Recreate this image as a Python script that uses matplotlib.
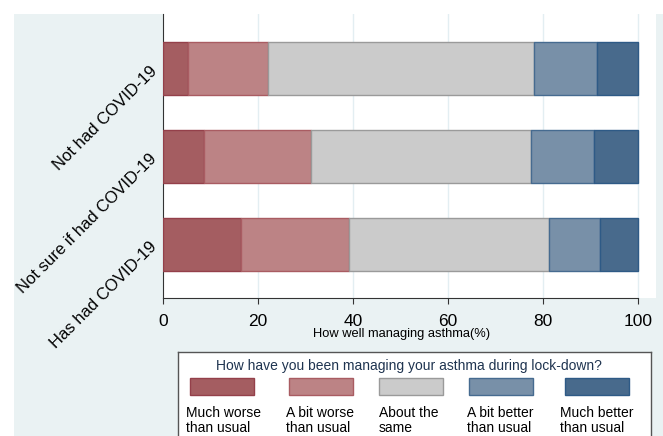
import numpy as np
import matplotlib
matplotlib.use("Agg")
import matplotlib.pyplot as plt
from matplotlib.patches import Rectangle

plt.rcParams["font.family"] = ["Liberation Sans", "DejaVu Sans"]

# data (percent of respondents per group)
groups = ["Not had COVID-19", "Not sure if had COVID-19", "Has had COVID-19"]
much_worse = [5.2, 8.7, 16.5]
bit_worse = [16.8, 22.5, 22.7]
same = [56.1, 46.3, 42.1]
bit_better = [13.2, 13.2, 10.8]
much_better = [8.7, 9.3, 7.9]

series = [much_worse, bit_worse, same, bit_better, much_better]
labels = ["Much worse\nthan usual", "A bit worse\nthan usual", "About the\nsame",
          "A bit better\nthan usual", "Much better\nthan usual"]
fills = ["#A45D61", "#BC8385", "#CBCBCB", "#7890A8", "#486A8C"]
edges = ["#94404A", "#A95C62", "#9A9A9A", "#466B90", "#2E5A86"]

W, H = 663, 436
fig = plt.figure(figsize=(W / 100, H / 100), dpi=100)
bg = Rectangle((14 / W, 0), 1, (H - 14) / H, transform=fig.transFigure,
               facecolor="#EAF2F3", edgecolor="none", zorder=-5)
fig.add_artist(bg)

ax = fig.add_axes([163 / W, 1 - 298 / H, (656 - 163) / W, (298 - 14) / H])
ax.set_facecolor("white")
ax.set_zorder(2)

y = np.arange(len(groups))
left = np.zeros(len(groups))
for vals, fc, ec in zip(series, fills, edges):
    ax.barh(y, vals, left=left, height=0.6, color=fc, edgecolor=ec, linewidth=1, zorder=3)
    left += np.array(vals)

ax.set_xlim(0, 100 + 18 / 4.75)
ax.set_ylim(2 + 53.5 / 88, -54.5 / 88)
ax.set_xticks([0, 20, 40, 60, 80, 100])
ax.tick_params(axis="x", labelsize=12.5, length=4, width=0.8, color="#333333", pad=7.5)
ax.set_yticks(y)
ax.set_yticklabels(groups, rotation=45, ha="right", va="center", rotation_mode="anchor", fontsize=12)
ax.tick_params(axis="y", length=0, pad=6)
for gx in [20, 40, 60, 80, 100]:
    ax.axvline(gx, color="#E3EEF2", linewidth=1, zorder=1)

for s in ["top", "right"]:
    ax.spines[s].set_visible(False)
ax.spines["bottom"].set_bounds(0, 100)
ax.spines["left"].set_color("#333333")
ax.spines["bottom"].set_color("#333333")

fig.text(402 / W, 1 - 334 / H, "How well managing asthma(%)", ha="center", va="center", fontsize=9.3)

# legend box
lx0, lx1, ly0 = 178, 651, 351.5
lax = fig.add_axes([lx0 / W, 0, (lx1 - lx0) / W, (H - ly0) / H])
lax.set_zorder(2)
lax.set_xlim(lx0, lx1)
lax.set_ylim(H, ly0)
lax.set_facecolor("white")
lax.set_xticks([])
lax.set_yticks([])
for s in ["top", "left", "right"]:
    lax.spines[s].set_color("#555555")
    lax.spines[s].set_linewidth(1)
lax.spines["bottom"].set_visible(False)

lax.text(409, 366, "How have you been managing your asthma during lock-down?",
         ha="center", va="center", fontsize=10, color="#1F3450")
key_x = [190.5, 288.5, 379, 469, 564.5]
text_x = [186, 285.5, 379, 467, 560]
for kx, tx, lab, fc, ec in zip(key_x, text_x, labels, fills, edges):
    lax.add_patch(Rectangle((kx, 378), 64, 17, facecolor=fc, edgecolor=ec, linewidth=1))
    lax.text(tx, 406, lab, ha="left", va="top", fontsize=10, linespacing=1.12)

fig.savefig("out.png", dpi=100)
